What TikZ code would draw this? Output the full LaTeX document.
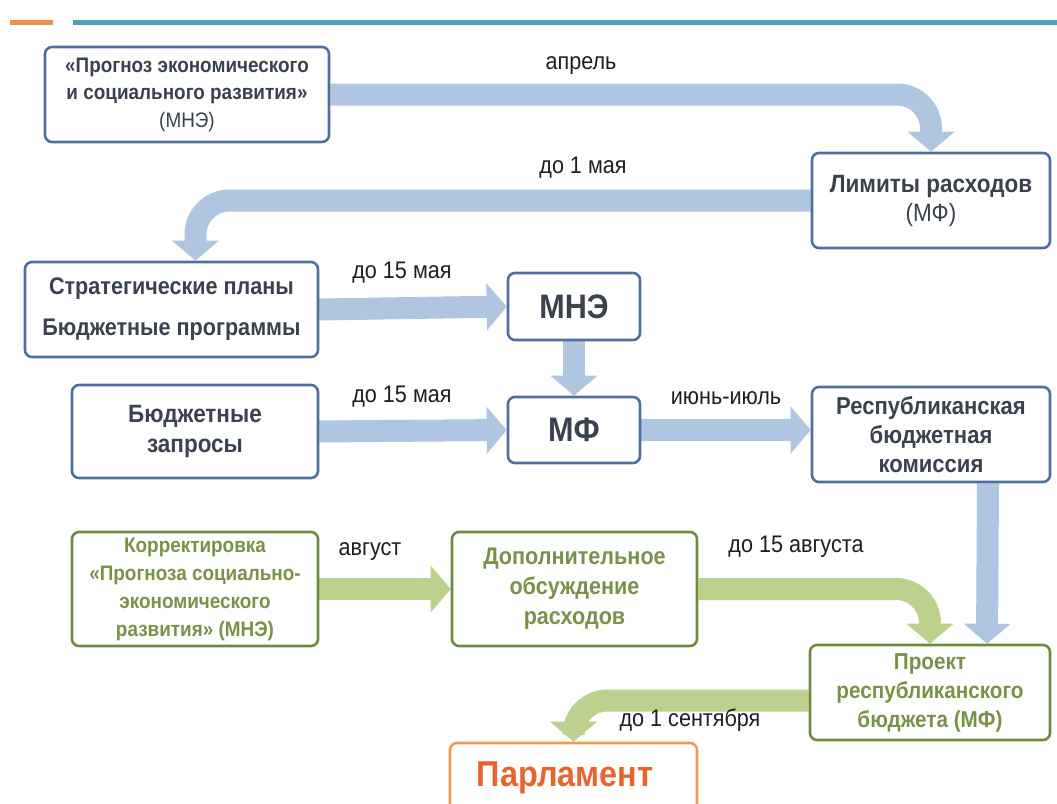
\documentclass[tikz,border=0pt]{standalone}
\usepackage{fontspec}
\setmainfont{Liberation Sans}[FakeStretch=0.9]
\usetikzlibrary{arrows.meta}
\definecolor{bborder}{RGB}{79,111,156}
\definecolor{boxtext}{RGB}{58,66,80}
\definecolor{arrblue}{RGB}{175,197,224}
\definecolor{arrgreen}{RGB}{189,209,143}
\definecolor{gborder}{RGB}{110,139,61}
\definecolor{gtext}{RGB}{122,146,72}
\definecolor{oborder}{RGB}{243,154,78}
\definecolor{otext}{RGB}{229,101,45}
\definecolor{labtext}{RGB}{30,30,30}
\definecolor{hdrorange}{RGB}{238,143,74}
\definecolor{hdrteal}{RGB}{79,163,172}
\pgfdeclarelayer{bg}
\pgfsetlayers{bg,main}
\tikzset{
  box/.style={draw=bborder, line width=2.6pt, rounded corners=7pt, fill=white,
    align=center, text=boxtext, inner sep=0pt},
  gbox/.style={box, draw=gborder, text=gtext},
  obox/.style={box, draw=oborder, text=otext},
  barrow/.style={draw=arrblue, line width=22pt, -{Triangle[width=46pt,length=20pt]}},
  garrow/.style={barrow, draw=arrgreen},
  lab/.style={text=labtext, font=\fontsize{24}{28}\selectfont},
  hdr/.style={line width=5pt}
}
\begin{document}
\begin{tikzpicture}[x=1pt,y=-1pt]
\useasboundingbox (0,0) rectangle (1057,803);
% header lines
\coordinate (ho1) at (10,22);
\coordinate (ho2) at (53,22);
\coordinate (ht1) at (73,22);
\coordinate (ht2) at (1057,22);
\draw[hdr, hdrorange] (ho1) -- (ho2);
\draw[hdr, hdrteal] (ht1) -- (ht2);

% boxes
\node[box, minimum width=284pt, minimum height=95pt, font=\bfseries\fontsize{21}{27.5}\selectfont] (b1) at (187,94.5)
  {«Прогноз экономического\\и социального развития»\\{\mdseries (МНЭ)}};
\node[box, minimum width=238pt, minimum height=95pt, font=\bfseries\fontsize{25}{29}\selectfont] (lim) at (931,200.5)
  {Лимиты расходов\\{\mdseries (МФ)}};
\node[box, minimum width=293pt, minimum height=95pt, font=\bfseries\fontsize{24}{41}\selectfont] (strat) at (171.5,309.5)
  {Стратегические планы\\Бюджетные программы};
\node[box, minimum width=132pt, minimum height=67pt, font=\bfseries\fontsize{34}{38}\selectfont] (mne) at (574,306.5) {МНЭ};
\node[box, minimum width=246pt, minimum height=93pt, font=\bfseries\fontsize{25}{30}\selectfont] (bz) at (195,431.5)
  {Бюджетные\\запросы};
\node[box, minimum width=132pt, minimum height=66pt, font=\bfseries\fontsize{34}{38}\selectfont] (mf) at (574,430) {МФ};
\node[box, minimum width=238pt, minimum height=95pt, font=\bfseries\fontsize{24.5}{29}\selectfont] (resp) at (931,434.5)
  {Республиканская\\бюджетная\\комиссия};
\node[gbox, minimum width=246pt, minimum height=114pt, font=\bfseries\fontsize{21}{28}\selectfont] (korr) at (195,589)
  {Корректировка\\«Прогноза социально-\\экономического\\развития» (МНЭ)};
\node[gbox, minimum width=245pt, minimum height=114pt, font=\bfseries\fontsize{24}{30}\selectfont] (dop) at (574.5,589)
  {Дополнительное\\обсуждение\\расходов};
\node[gbox, minimum width=240pt, minimum height=95pt, font=\bfseries\fontsize{23}{29}\selectfont] (proj) at (930,692.5)
  {Проект\\республиканского\\бюджета (МФ)};
\node[obox, minimum width=247pt, minimum height=94pt] (parl) at (573.5,790) {};
\node[text=otext, font=\bfseries\fontsize{36}{40}\selectfont] (parltxt) at (565,778) {Парламент};

% connectors
\begin{pgfonlayer}{bg}
\draw[barrow, rounded corners=34pt] (b1.east) -| (lim.north);
\draw[barrow, rounded corners=34pt] (lim.west) -| ([xshift=24pt]strat.north);
\draw[barrow] (strat.east) -- (mne.west);
\draw[barrow] (mne.south) -- (mf.north);
\draw[barrow] (bz.east) -- (mf.west);
\draw[barrow] (mf.east) -- (mf.east -| resp.west);
\draw[barrow] ([xshift=57pt]resp.south) -- ([xshift=57pt]proj.north);
\draw[garrow] (korr.east) -- (dop.west);
\draw[garrow, rounded corners=34pt] (dop.east) -| (proj.north);
\draw[garrow, rounded corners=34pt] ([yshift=-8pt]proj.west) -| (parl.north);
\end{pgfonlayer}

% labels
\node[lab] (l1) at (581,66) {апрель};
\node[lab] (l2) at (583,168) {до 1 мая};
\node[lab] (l3) at (402,273) {до 15 мая};
\node[lab] (l4) at (402,397) {до 15 мая};
\node[lab] (l5) at (726,398) {июнь-июль};
\node[lab] (l6) at (370,552) {август};
\node[lab] (l7) at (796,547) {до 15 августа};
\node[lab] (l8) at (690,720) {до 1 сентября};
\end{tikzpicture}
\end{document}
